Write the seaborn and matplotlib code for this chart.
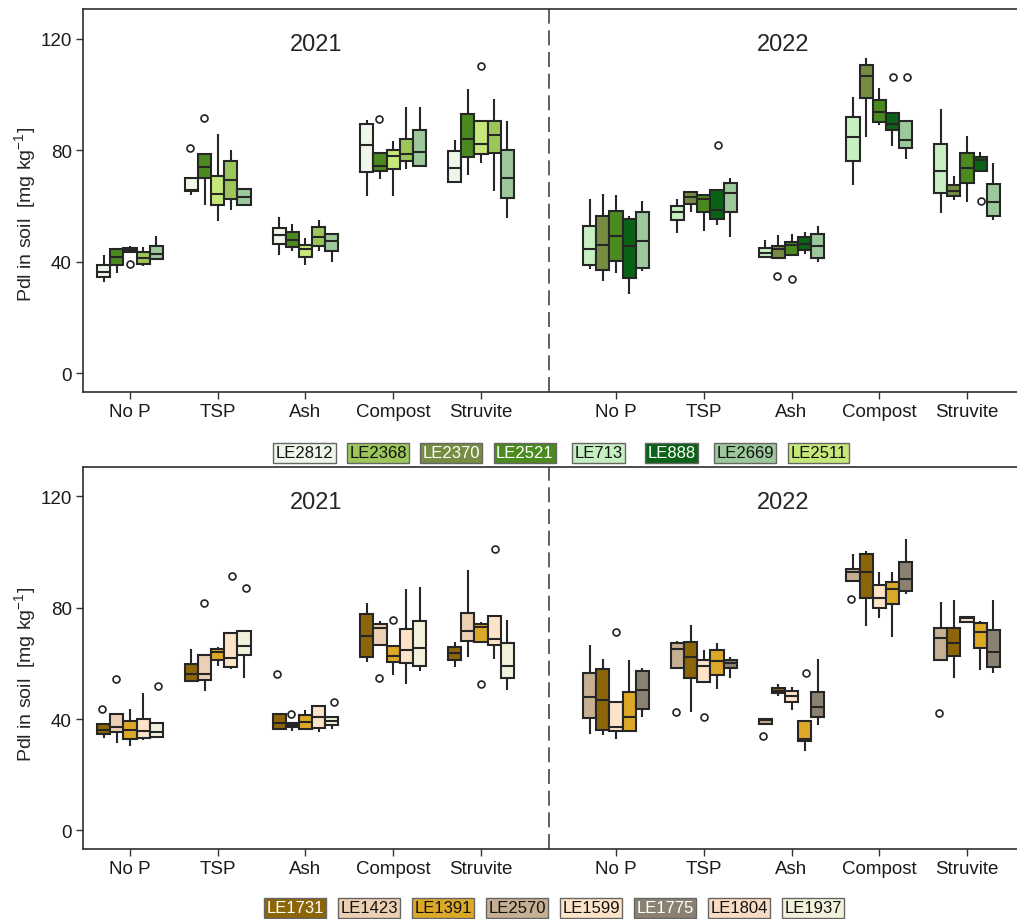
import numpy as np
import pandas as pd
import matplotlib
matplotlib.use("Agg")
import matplotlib.pyplot as plt
import matplotlib.transforms as mtransforms
import seaborn as sns

treatments = ["No P", "TSP", "Ash", "Compost", "Struvite"]
years = ["2021", "2022"]

# cultivar order inside each year block
green_lines_2021 = ["LE2812", "LE2521", "LE2511", "LE2368", "LE2669"]
green_lines_2022 = ["LE713", "LE2370", "LE2521", "LE888", "LE2669"]
brown_lines_2021 = ["LE1731", "LE1423", "LE1391", "LE1599", "LE1937"]
brown_lines_2022 = ["LE2570", "LE1731", "LE1599", "LE1391", "LE1775"]

# legend rows
green_legend = ["LE2812", "LE2368", "LE2370", "LE2521", "LE713", "LE888", "LE2669", "LE2511"]
brown_legend = ["LE1731", "LE1423", "LE1391", "LE2570", "LE1599", "LE1775", "LE1804", "LE1937"]

# [lower whisker, Q1, median, Q3, upper whisker]; rows = treatments, columns = cultivars
green_box_2021 = [
    [[32.9, 34.7, 36.4, 38.9, 42.5], [35.8, 38.7, 41.8, 44.6, 44.6], [43.4, 43.4, 44.1, 44.8, 45.7],
     [38.6, 39.2, 41.2, 43.4, 45.4], [41.0, 41.0, 42.9, 45.6, 49.2]],
    [[64.0, 65.2, 65.9, 69.9, 69.9], [60.4, 70.1, 73.8, 78.5, 78.5], [54.5, 60.3, 64.2, 70.8, 85.9],
     [58.6, 62.5, 69.3, 76.1, 80.1], [59.9, 60.4, 63.2, 66.0, 66.6]],
    [[42.5, 46.5, 49.6, 52.2, 56.1], [43.8, 45.3, 47.9, 50.8, 53.7], [39.0, 41.7, 44.4, 46.1, 48.4],
     [43.9, 45.5, 48.8, 52.5, 55.1], [40.0, 43.7, 47.5, 49.8, 50.3]],
    [[63.5, 72.1, 81.8, 89.3, 90.7], [69.7, 72.6, 74.3, 79.1, 79.1], [63.6, 73.3, 77.8, 80.1, 83.4],
     [73.2, 76.2, 78.7, 84.1, 95.4], [74.3, 74.3, 79.4, 87.2, 95.6]],
    [[68.1, 68.6, 73.5, 79.8, 83.7], [71.1, 77.5, 83.9, 92.9, 101.8], [75.5, 78.7, 82.1, 90.4, 90.4],
     [65.4, 79.1, 85.5, 90.3, 98.5], [55.6, 62.8, 70.0, 80.1, 90.3]],
]
green_out_2021 = [("No P", "LE2511", 39.2), ("TSP", "LE2812", 80.7), ("TSP", "LE2521", 91.7),
                  ("Compost", "LE2521", 91.1), ("Struvite", "LE2511", 110.3)]

green_box_2022 = [
    [[37.4, 38.7, 44.6, 52.9, 62.4], [33.2, 37.0, 46.1, 56.5, 64.2], [35.8, 40.4, 49.1, 58.2, 63.8],
     [28.3, 34.0, 45.5, 55.3, 56.3], [36.6, 37.6, 47.3, 57.7, 61.8]],
    [[50.2, 54.8, 58.0, 59.9, 62.4], [57.9, 60.6, 63.2, 64.9, 65.3], [51.0, 58.0, 62.4, 63.9, 63.9],
     [53.2, 55.4, 58.4, 65.8, 65.8], [48.8, 57.7, 64.6, 68.3, 70.1]],
    [[41.7, 41.7, 43.0, 45.0, 47.9], [41.5, 41.5, 44.4, 45.5, 49.6], [42.4, 42.4, 46.0, 47.0, 49.8],
     [42.9, 44.1, 46.2, 48.9, 50.8], [39.9, 41.5, 45.6, 49.9, 52.9]],
    [[67.6, 76.0, 84.8, 92.0, 99.1], [84.8, 98.7, 106.5, 110.6, 113.1], [89.1, 90.0, 93.6, 98.1, 102.4],
     [81.4, 87.1, 89.3, 93.2, 93.2], [76.9, 80.7, 83.6, 90.4, 90.4]],
    [[57.4, 64.7, 72.6, 82.3, 94.9], [62.0, 63.4, 65.2, 67.6, 70.6], [61.3, 68.1, 73.5, 78.9, 85.0],
     [72.5, 72.5, 76.4, 77.4, 79.3], [55.0, 56.4, 61.3, 67.9, 75.5]],
]
green_out_2022 = [("TSP", "LE888", 81.8), ("Ash", "LE2370", 35.0), ("Ash", "LE2521", 33.9),
                  ("Compost", "LE888", 106.2), ("Compost", "LE2669", 106.2), ("Struvite", "LE888", 61.8)]

brown_box_2021 = [
    [[33.3, 34.5, 35.9, 38.2, 38.2], [31.4, 35.3, 37.1, 41.7, 41.7], [30.2, 32.8, 35.9, 39.2, 43.7],
     [32.6, 33.2, 35.8, 40.1, 49.3], [33.2, 33.7, 35.5, 38.7, 38.7]],
    [[53.2, 53.8, 56.1, 59.8, 65.2], [50.0, 54.1, 56.3, 63.2, 63.2], [59.0, 61.4, 64.0, 65.2, 65.8],
     [58.0, 58.8, 61.8, 70.9, 70.9], [54.8, 63.1, 66.4, 71.7, 71.7]],
    [[36.5, 36.5, 38.5, 41.9, 41.9], [35.7, 37.0, 37.7, 38.5, 38.5], [36.5, 36.5, 38.9, 41.5, 43.1],
     [35.3, 36.7, 40.8, 44.6, 44.6], [36.5, 37.7, 39.2, 40.6, 40.6]],
    [[60.4, 62.2, 69.7, 77.7, 81.7], [66.7, 66.7, 72.7, 74.3, 75.2], [56.0, 60.6, 62.8, 66.4, 66.4],
     [52.6, 60.2, 64.9, 72.3, 86.9], [57.4, 59.0, 65.5, 75.3, 87.6]],
    [[58.6, 61.1, 63.9, 66.0, 67.8], [62.4, 68.1, 71.7, 78.3, 93.5], [67.8, 67.8, 73.1, 74.1, 75.0],
     [61.6, 66.6, 68.8, 77.1, 77.1], [50.5, 54.7, 59.2, 67.3, 75.6]],
]
brown_out_2021 = [("No P", "LE1731", 43.5), ("No P", "LE1423", 54.4), ("No P", "LE1937", 51.8),
                  ("TSP", "LE1423", 81.8), ("TSP", "LE1599", 91.4), ("TSP", "LE1937", 87.0),
                  ("Ash", "LE1731", 56.2), ("Ash", "LE1423", 41.9), ("Ash", "LE1937", 46.0),
                  ("Compost", "LE1423", 54.8), ("Compost", "LE1391", 75.7),
                  ("Struvite", "LE1391", 52.6), ("Struvite", "LE1599", 101.3)]

brown_box_2022 = [
    [[34.7, 40.5, 47.9, 56.7, 66.7], [34.1, 35.9, 46.7, 57.9, 61.6], [32.7, 35.7, 37.2, 46.0, 46.0],
     [35.7, 35.7, 40.9, 49.8, 61.2], [40.8, 43.5, 50.5, 57.1, 58.5]],
    [[58.4, 58.4, 65.3, 67.3, 68.2], [42.7, 54.6, 62.3, 67.7, 73.8], [53.3, 53.3, 59.0, 61.2, 64.7],
     [50.9, 55.9, 60.7, 64.7, 67.3], [54.8, 58.5, 60.2, 61.3, 62.4]],
    [[38.1, 38.1, 39.5, 40.1, 40.1], [48.4, 49.3, 50.2, 51.2, 52.6], [43.3, 46.3, 48.4, 50.1, 51.7],
     [28.5, 32.0, 33.0, 39.2, 39.2], [37.7, 40.9, 44.2, 49.9, 61.6]],
    [[89.8, 89.8, 92.9, 94.1, 99.5], [73.3, 83.5, 92.9, 99.2, 100.5], [76.3, 79.9, 83.6, 88.2, 92.9],
     [69.4, 81.2, 86.6, 89.3, 92.9], [85.0, 86.2, 90.5, 96.6, 104.6]],
    [[61.1, 61.1, 69.1, 72.9, 82.2], [54.9, 62.6, 67.4, 72.9, 82.8], [74.4, 74.9, 76.3, 76.8, 76.8],
     [57.8, 65.5, 71.3, 74.7, 75.4], [56.6, 58.7, 64.0, 72.1, 82.8]],
]
brown_out_2022 = [("No P", "LE1599", 71.2), ("TSP", "LE2570", 42.5), ("TSP", "LE1599", 40.7),
                  ("Ash", "LE2570", 34.0), ("Ash", "LE1391", 56.4), ("Compost", "LE2570", 83.1),
                  ("Struvite", "LE2570", 42.0)]

line_colors = {
    "LE2812": "#eef7ea", "LE2368": "#9cc65a", "LE2370": "#768c42", "LE2521": "#4a8a1e",
    "LE713": "#c6f0c2", "LE888": "#0a6216", "LE2669": "#9cc89c", "LE2511": "#c6e87a",
    "LE1731": "#8b6508", "LE1423": "#ecd0b4", "LE1391": "#dca828", "LE2570": "#c6af93",
    "LE1599": "#fde3c8", "LE1775": "#8b8172", "LE1804": "#fadcc4", "LE1937": "#f2f2dc",
}
dark_lines = {"LE2370", "LE2521", "LE888", "LE1731", "LE1775"}

# ---- layout constants ----
block_start = {"2021": 0.0, "2022": 5.54}
divider_x = 4.77
x_limits = (-0.536, 10.11)
y_limits = (-6.7, 130.6)
edge = "#262626"

sns.set_style("ticks")
plt.rcParams["font.family"] = ["Liberation Sans", "DejaVu Sans"]
plt.rcParams["mathtext.default"] = "regular"


def long_frame(stats, lines, x0):
    rows = []
    for ti, per_line in enumerate(stats):
        for line, five in zip(lines, per_line):
            for v in five:
                rows.append({"x": x0 + ti, "line": line, "value": v})
    return pd.DataFrame(rows)


def outlier_frame(points, x0):
    rows = [{"x": x0 + treatments.index(t), "line": l, "value": v} for t, l, v in points]
    return pd.DataFrame(rows)


def draw_block(ax, stats, lines, outliers, year):
    x0 = block_start[year]
    df = long_frame(stats, lines, x0)
    pal = {l: line_colors[l] for l in lines}
    sns.boxplot(data=df, x="x", y="value", hue="line", hue_order=lines, palette=pal,
                native_scale=True, dodge=True, width=0.75, gap=0, whis=(0, 100),
                linewidth=1.5, linecolor=edge, showcaps=False, showfliers=False,
                saturation=1, legend=False, ax=ax)
    od = outlier_frame(outliers, x0)
    sns.stripplot(data=od, x="x", y="value", hue="line", hue_order=lines,
                  palette={l: "white" for l in lines}, native_scale=True, dodge=True,
                  jitter=False, size=5, edgecolor="#222222", linewidth=1.2,
                  legend=False, zorder=5, ax=ax)


def style_axes(ax):
    ax.set_xlim(*x_limits)
    ax.set_ylim(*y_limits)
    ticks = [block_start[y] + i for y in years for i in range(len(treatments))]
    ax.set_xticks(ticks)
    ax.set_xticklabels(treatments * 2, fontsize=13.5, color="#1a1a1a")
    ax.set_yticks([0, 40, 80, 120])
    ax.set_yticklabels(["0", "40", "80", "120"], fontsize=13.5, color="#1a1a1a")
    ax.tick_params(axis="both", direction="out", length=5, width=1.0, color="#333333", pad=3)
    ax.set_xlabel("")
    ax.set_ylabel("")
    for side in ["left", "bottom", "top"]:
        ax.spines[side].set_visible(True)
        ax.spines[side].set_color("#2e2e2e")
        ax.spines[side].set_linewidth(1.2)
    ax.spines["right"].set_visible(False)
    ax.axvline(divider_x, color="#444444", lw=1.2, dashes=(9, 4), zorder=0)
    trans = mtransforms.blended_transform_factory(ax.transData, ax.transAxes)
    left_mid = (x_limits[0] + divider_x) / 2
    right_mid = (divider_x + x_limits[1]) / 2
    ax.text(left_mid, 0.909, years[0], transform=trans, ha="center", va="center", fontsize=17)
    ax.text(right_mid, 0.909, years[1], transform=trans, ha="center", va="center", fontsize=17)


fig = plt.figure(figsize=(10.17, 9.2), dpi=100)
ax_top = fig.add_axes([0.0816, 0.5728, 0.9184, 0.4163])
ax_bot = fig.add_axes([0.0816, 0.0761, 0.9184, 0.4152])

draw_block(ax_top, green_box_2021, green_lines_2021, green_out_2021, "2021")
draw_block(ax_top, green_box_2022, green_lines_2022, green_out_2022, "2022")
draw_block(ax_bot, brown_box_2021, brown_lines_2021, brown_out_2021, "2021")
draw_block(ax_bot, brown_box_2022, brown_lines_2022, brown_out_2022, "2022")
style_axes(ax_top)
style_axes(ax_bot)

ylabel = r"Pdl in soil  [mg kg$^{-1}$]"
fig.text(25 / 1017, 1 - 214 / 920, ylabel, rotation=90, ha="center", va="center", fontsize=14)
fig.text(25 / 1017, 1 - 674 / 920, ylabel, rotation=90, ha="center", va="center", fontsize=14)


def legend_row(names, y_px, x_first, pitch):
    for i, name in enumerate(names):
        fig.text((x_first + i * pitch) / 1017, 1 - y_px / 920, name,
                 ha="center", va="center", fontsize=12,
                 color="white" if name in dark_lines else "#111111",
                 bbox=dict(boxstyle="square,pad=0.14", facecolor=line_colors[name],
                           edgecolor="#666666", linewidth=1.0))


legend_row(green_legend, 454, 304.6, 73.4)
legend_row(brown_legend, 909, 295.0, 74.0)

fig.savefig("out.png", dpi=100)
